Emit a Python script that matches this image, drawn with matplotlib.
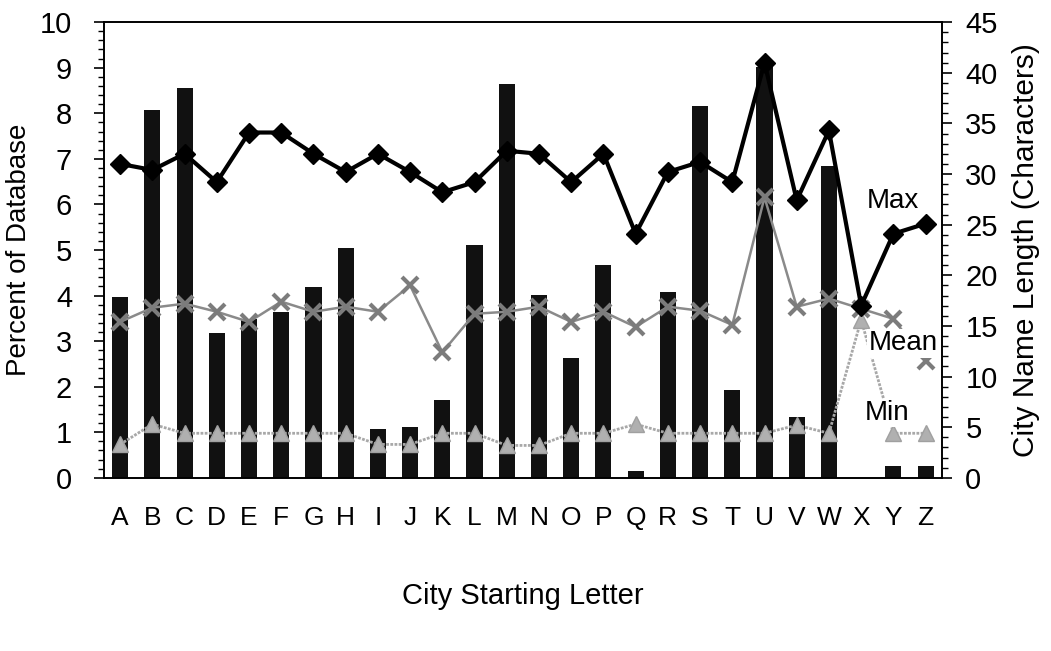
import numpy as np
import matplotlib
matplotlib.use('Agg')
import matplotlib.pyplot as plt
from matplotlib.ticker import MultipleLocator

plt.rcParams['font.family'] = ['Liberation Sans', 'DejaVu Sans']

letters = list('ABCDEFGHIJKLMNOPQRSTUVWXYZ')

# share of database per starting letter (%)
percent = [3.97, 8.07, 8.55, 3.17, 3.49, 3.64, 4.19, 5.05, 1.07, 1.12, 1.70, 5.10, 8.65,
           4.02, 2.62, 4.66, 0.15, 4.08, 8.16, 1.92, 9.01, 1.34, 6.84, 0.0, 0.26, 0.26]

# city name length statistics (characters)
max_len = [31.0, 30.4, 32.0, 29.2, 34.1, 34.1, 32.0, 30.2, 32.0, 30.2, 28.2, 29.2, 32.3,
           32.0, 29.2, 32.0, 24.1, 30.2, 31.2, 29.2, 41.0, 27.4, 34.3, 17.0, 24.1, 25.1]
mean_len = [15.4, 16.8, 17.2, 16.4, 15.4, 17.4, 16.4, 16.9, 16.4, 19.0, 12.4, 16.2, 16.4,
            16.9, 15.4, 16.4, 14.9, 16.9, 16.5, 15.1, 27.7, 16.9, 17.7, 16.7, 15.7, 11.5]
min_len = [3.3, 5.3, 4.4, 4.4, 4.4, 4.4, 4.4, 4.4, 3.3, 3.3, 4.4, 4.4, 3.2,
           3.2, 4.4, 4.4, 5.3, 4.4, 4.4, 4.4, 4.4, 5.2, 4.4, 15.6, 4.4, 4.4]

x = np.arange(len(letters))

fig = plt.figure(figsize=(10.51, 6.51), dpi=100)
ax = fig.add_axes([0.099, 0.266, 0.797, 0.700])
ax2 = ax.twinx()

ax.bar(x, percent, width=0.5, color='#111111', zorder=2)
ax.set_xlim(-0.5, len(letters) - 0.5)
ax.set_ylim(0, 10)
ax.yaxis.set_major_locator(MultipleLocator(1))
ax.yaxis.set_minor_locator(MultipleLocator(0.2))
ax.set_xticks(x)
ax.set_xticklabels(letters)
ax.tick_params(axis='x', length=0, pad=20, labelsize=19)
ax.tick_params(axis='y', which='major', direction='out', length=7, width=1.2, labelsize=21, pad=16)
ax.tick_params(axis='y', which='minor', direction='out', length=4, width=1)
ax.set_ylabel('Percent of Database', fontsize=20, labelpad=6)
ax.set_xlabel('City Starting Letter', fontsize=21, labelpad=38)

# min, mean and max name length on the right axis
ax2.plot(x, min_len, color='#a8a8a8', lw=2, ls=(0, (1, 0.5)), marker='^', ms=12,
         mfc='#b0b0b0', mec='#a0a0a0', zorder=3)
ax2.plot(x, mean_len, color='#8a8a8a', lw=1.8, marker='x', ms=12, mew=3,
         mec='#7c7c7c', zorder=4)
ax2.plot(x, max_len, color='black', lw=3, marker='D', ms=10, mfc='black',
         mec='black', zorder=5)

ax2.set_ylim(0, 45)
ax2.yaxis.set_major_locator(MultipleLocator(5))
ax2.yaxis.set_minor_locator(MultipleLocator(1))
ax2.tick_params(axis='y', which='major', direction='out', length=7, width=1.2, labelsize=21, pad=10)
ax2.tick_params(axis='y', which='minor', direction='out', length=4, width=1)
ax2.set_ylabel('City Name Length (Characters)', fontsize=21.5, labelpad=10)

box = dict(facecolor='white', edgecolor='none', pad=1)
ax2.text(24.0, 27.3, 'Max', fontsize=20, ha='center', va='center', zorder=6)
ax2.text(24.3, 13.3, 'Mean', fontsize=20, ha='center', va='center',
         bbox=box, zorder=6, clip_on=False)
ax2.text(23.8, 6.4, 'Min', fontsize=20, ha='center', va='center', bbox=box, zorder=6)

for a in (ax, ax2):
    for s in a.spines.values():
        s.set_linewidth(1.2)

fig.savefig('out.png', dpi=100)
